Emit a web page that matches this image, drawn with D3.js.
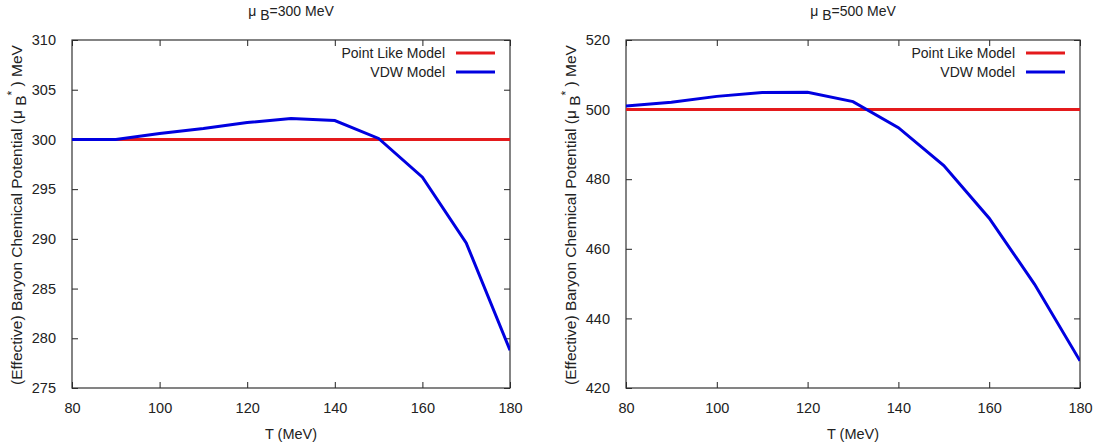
<!DOCTYPE html>
<html>
<head>
<meta charset="utf-8">
<script src="https://cdn.jsdelivr.net/npm/d3@7"></script>
<style>
  body { margin: 0; background: #fff; }
  svg { display: block; font-family: "Liberation Sans", Arial, sans-serif; }
</style>
</head>
<body>
<svg id="chart" width="1099" height="447"></svg>
<script>
// Data
// ----
const temps = [80, 90, 100, 110, 120, 130, 140, 150, 160, 170, 180];

const vdw300 = [300.0, 300.0, 300.6, 301.1, 301.7, 302.1, 301.9, 300.1, 296.2, 289.6, 278.8];
const point300 = [300, 300, 300, 300, 300, 300, 300, 300, 300, 300, 300];

const vdw500 = [501.0, 502.1, 503.8, 504.9, 505.0, 502.3, 494.8, 483.9, 468.8, 449.8, 427.8];
const point500 = [500, 500, 500, 500, 500, 500, 500, 500, 500, 500, 500];

const xTicks = [80, 100, 120, 140, 160, 180];
const yTicks300 = [275, 280, 285, 290, 295, 300, 305, 310];
const yTicks500 = [420, 440, 460, 480, 500, 520];

const legendLabels = ["Point Like Model", "VDW Model"];
const colors = ["#e41a1c", "#0000e0"];

const panels = [
    { mu: "300", left: 72, right: 510, yDomain: [275, 310], yTicks: yTicks300, series: [point300, vdw300] },
    { mu: "500", left: 626, right: 1080, yDomain: [420, 520], yTicks: yTicks500, series: [point500, vdw500] }
];

const plotTop = 40, plotBottom = 388;
const svg = d3.select("#chart");

panels.forEach(p => {
    const g = svg.append("g");
    const x = d3.scaleLinear().domain([80, 180]).range([p.left, p.right]);
    const y = d3.scaleLinear().domain(p.yDomain).range([plotBottom, plotTop]);
    const tickLen = 6;

    // clip for lines
    const clipId = "clip" + p.mu;
    svg.append("clipPath").attr("id", clipId)
        .append("rect").attr("x", p.left).attr("y", plotTop)
        .attr("width", p.right - p.left).attr("height", plotBottom - plotTop);

    // axes, gnuplot style: inward ticks mirrored
    g.append("g").attr("transform", `translate(0,${plotBottom})`)
        .call(d3.axisBottom(x).tickValues(xTicks).tickSizeInner(-tickLen).tickSizeOuter(0).tickPadding(15))
        .call(a => a.select(".domain").remove());
    g.append("g").attr("transform", `translate(0,${plotTop})`)
        .call(d3.axisTop(x).tickValues(xTicks).tickSizeInner(-tickLen).tickSizeOuter(0).tickFormat(""))
        .call(a => a.select(".domain").remove());
    g.append("g").attr("transform", `translate(${p.left},0)`)
        .call(d3.axisLeft(y).tickValues(p.yTicks).tickSizeInner(-tickLen).tickSizeOuter(0).tickPadding(16))
        .call(a => a.select(".domain").remove());
    g.append("g").attr("transform", `translate(${p.right},0)`)
        .call(d3.axisRight(y).tickValues(p.yTicks).tickSizeInner(-tickLen).tickSizeOuter(0).tickFormat(""))
        .call(a => a.select(".domain").remove());

    g.selectAll(".tick text").attr("font-size", 14.5).attr("fill", "#222")
        .attr("font-family", "Liberation Sans, Arial, sans-serif");
    g.selectAll(".tick line").attr("stroke", "#222");

    g.append("rect").attr("x", p.left).attr("y", plotTop)
        .attr("width", p.right - p.left).attr("height", plotBottom - plotTop)
        .attr("fill", "none").attr("stroke", "#333").attr("stroke-width", 1.2);

    // lines
    const line = d3.line().x((d, i) => x(temps[i])).y(d => y(d));
    p.series.forEach((s, k) => {
        g.append("path").datum(s)
            .attr("clip-path", `url(#${clipId})`)
            .attr("d", line)
            .attr("fill", "none")
            .attr("stroke", colors[k])
            .attr("stroke-width", 3);
    });

    // legend
    const legX = p.right - 15;
    legendLabels.forEach((lab, k) => {
        const ly = 53 + k * 19;
        g.append("text").attr("x", legX - 50).attr("y", ly).attr("dy", "0.35em")
            .attr("text-anchor", "end").attr("font-size", 14).attr("fill", "#222")
            .text(lab);
        g.append("line").attr("x1", legX - 39).attr("x2", legX)
            .attr("y1", ly).attr("y2", ly)
            .attr("stroke", colors[k]).attr("stroke-width", 3);
    });

    // title
    const cx = (p.left + p.right) / 2;
    const title = g.append("text").attr("x", cx).attr("y", 16)
        .attr("text-anchor", "middle").attr("font-size", 14).attr("fill", "#222");
    title.append("tspan").text("\u03bc");
    title.append("tspan").attr("dy", 4).attr("font-size", 14).text(" B");
    title.append("tspan").attr("dy", -4).text("=" + p.mu + " MeV");

    // x label
    g.append("text").attr("x", cx).attr("y", 439)
        .attr("text-anchor", "middle").attr("font-size", 14.5).attr("fill", "#222")
        .text("T (MeV)");

    // y label
    const yl = g.append("text")
        .attr("transform", `translate(${p.left - 50},${(plotTop + plotBottom) / 2 + 1}) rotate(-90)`)
        .attr("text-anchor", "middle").attr("font-size", 15.5).attr("fill", "#222");
    yl.append("tspan").text("(Effective) Baryon Chemical Potential (\u03bc");
    yl.append("tspan").attr("dy", 4).text(" B");
    yl.append("tspan").attr("dy", -10).attr("font-size", 12).text("*");
    yl.append("tspan").attr("dy", 6).text(" ) MeV");
});
</script>
</body>
</html>
